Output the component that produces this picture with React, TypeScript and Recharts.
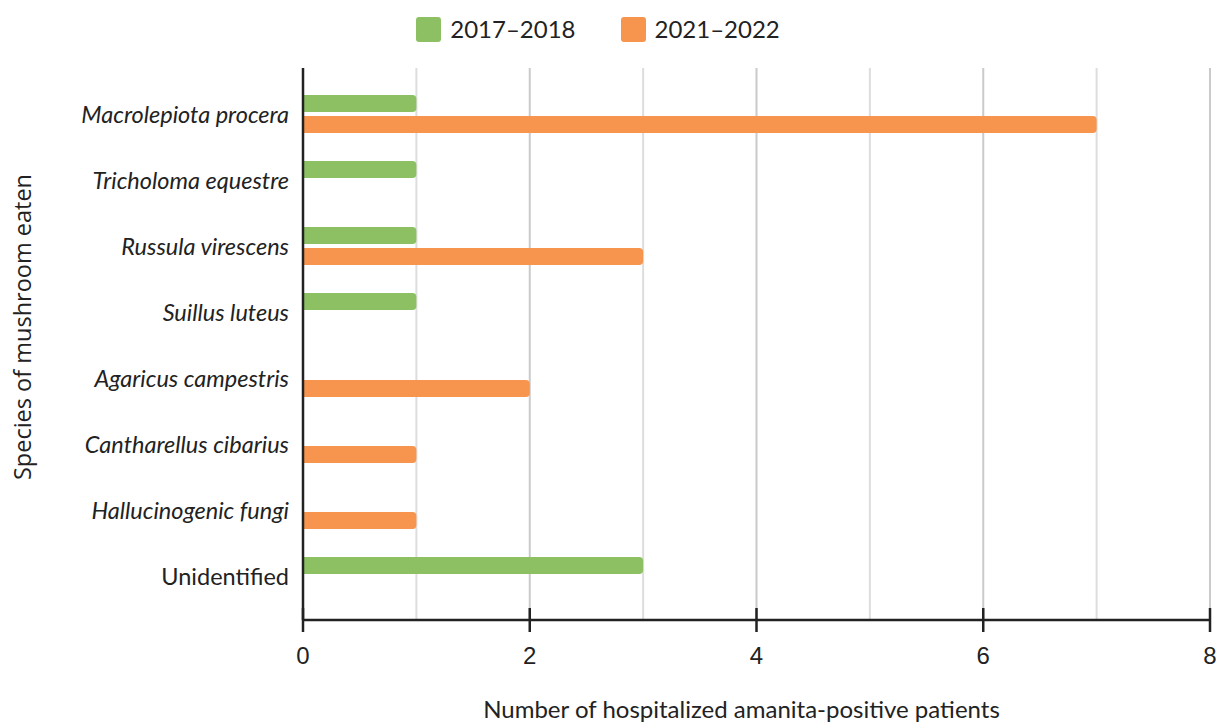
import React from "react";
import {
  BarChart,
  Bar,
  XAxis,
  YAxis,
  CartesianGrid,
  Legend,
  Label,
} from "recharts";

const categories = [
  "Macrolepiota procera",
  "Tricholoma equestre",
  "Russula virescens",
  "Suillus luteus",
  "Agaricus campestris",
  "Cantharellus cibarius",
  "Hallucinogenic fungi",
  "Unidentified",
];
const series2017 = [1, 1, 1, 1, 0, 0, 0, 3];
const series2021 = [7, 0, 3, 0, 2, 1, 1, 0];
const seriesNames = ["2017–2018", "2021–2022"];
const xTicks = [0, 2, 4, 6, 8];
const minorGrid = [1, 3, 5, 7];
const majorGrid = [2, 4, 6, 8];

const data = categories.map((name, i) => ({
  name,
  a: series2017[i],
  b: series2021[i],
}));

const GREEN = "#8dc063";
const ORANGE = "#f7944e";
const INK = "#222222";

const XTick = (props: any) => {
  const { x, y, payload } = props;
  return (
    <g>
      <line x1={x} x2={x} y1={y - 12} y2={y + 12} stroke={INK} strokeWidth={2.5} />
      <text
        x={x}
        y={y + 35}
        textAnchor="middle"
        dominantBaseline="central"
        fontFamily="'Liberation Sans', Arial, sans-serif"
        fontSize={24}
        fill={INK}
      >
        {payload.value}
      </text>
    </g>
  );
};

const YTick = (props: any) => {
  const { x, y, payload } = props;
  const plain = payload.value === "Unidentified";
  return (
    <text
      x={x}
      y={y}
      textAnchor="end"
      dominantBaseline="central"
      fontFamily="Lato, sans-serif"
      fontStyle={plain ? "normal" : "italic"}
      fontSize={23.5}
      fill={INK}
    >
      {payload.value}
    </text>
  );
};

const LegendContent = () => (
  <div
    style={{
      height: 68,
      display: "flex",
      justifyContent: "center",
      alignItems: "flex-start",
      paddingTop: 15,
      paddingRight: 20,
      boxSizing: "border-box",
      fontFamily: "Lato, sans-serif",
      fontSize: 24,
      color: INK,
    }}
  >
    {[GREEN, ORANGE].map((c, i) => (
      <div
        key={i}
        style={{
          display: "flex",
          alignItems: "center",
          marginRight: i === 0 ? 45 : 0,
        }}
      >
        <div
          style={{
            width: 25,
            height: 25,
            background: c,
            borderRadius: 3,
            marginRight: 9,
          }}
        />
        <span style={{ lineHeight: "28px" }}>{seriesNames[i]}</span>
      </div>
    ))}
  </div>
);

export default function App() {
  return (
    <div>
      <style>{`html,body{margin:0;padding:0;overflow:hidden;}`}</style>
      <BarChart
        width={1216}
        height={722}
        data={data}
        layout="vertical"
        margin={{ top: 0, right: 6, bottom: 0, left: 0 }}
        barSize={17}
        barGap={4}
        style={{ overflow: "visible" }}
      >
        <Legend
          verticalAlign="top"
          content={<LegendContent />}
          wrapperStyle={{ top: 0, left: 0, width: 1216, height: 68 }}
        />
        <CartesianGrid
          horizontal={false}
          vertical={true}
          verticalValues={minorGrid}
          stroke="#dddddd"
          strokeWidth={2}
        />
        <CartesianGrid
          horizontal={false}
          vertical={true}
          verticalValues={majorGrid}
          stroke="#cacaca"
          strokeWidth={2}
        />
        <XAxis
          type="number"
          domain={[0, 8]}
          ticks={xTicks}
          height={102}
          tickSize={0}
          tickMargin={0}
          tickLine={false}
          tick={<XTick />}
          axisLine={{ stroke: INK, strokeWidth: 2.5 }}
        >
          <Label
            content={(p: any) => {
              const vb = p.viewBox;
              return (
                <text
                  x={vb.x + vb.width / 2 - 15}
                  y={vb.y + 88}
                  textAnchor="middle"
                  dominantBaseline="central"
                  fontFamily="Lato, sans-serif"
                  fontSize={24}
                  fill={INK}
                >
                  Number of hospitalized amanita-positive patients
                </text>
              );
            }}
          />
        </XAxis>
        <YAxis
          type="category"
          dataKey="name"
          width={303}
          tickSize={0}
          tickMargin={14}
          tickLine={false}
          tick={<YTick />}
          padding={{ top: 13, bottom: 11 }}
          axisLine={{ stroke: INK, strokeWidth: 2.5 }}
          interval={0}
        >
          <Label
            content={(p: any) => {
              const vb = p.viewBox;
              const cx = 22;
              const cy = vb.y + vb.height / 2 - 17;
              return (
                <text
                  x={cx}
                  y={cy}
                  transform={`rotate(-90 ${cx} ${cy})`}
                  textAnchor="middle"
                  dominantBaseline="central"
                  fontFamily="'Open Sans', sans-serif"
                  fontSize={23.5}
                  fill={INK}
                >
                  Species of mushroom eaten
                </text>
              );
            }}
          />
        </YAxis>
        <Bar dataKey="a" name={seriesNames[0]} fill={GREEN} radius={[0, 4, 4, 0]} isAnimationActive={false} />
        <Bar dataKey="b" name={seriesNames[1]} fill={ORANGE} radius={[0, 4, 4, 0]} isAnimationActive={false} />
      </BarChart>
    </div>
  );
}
